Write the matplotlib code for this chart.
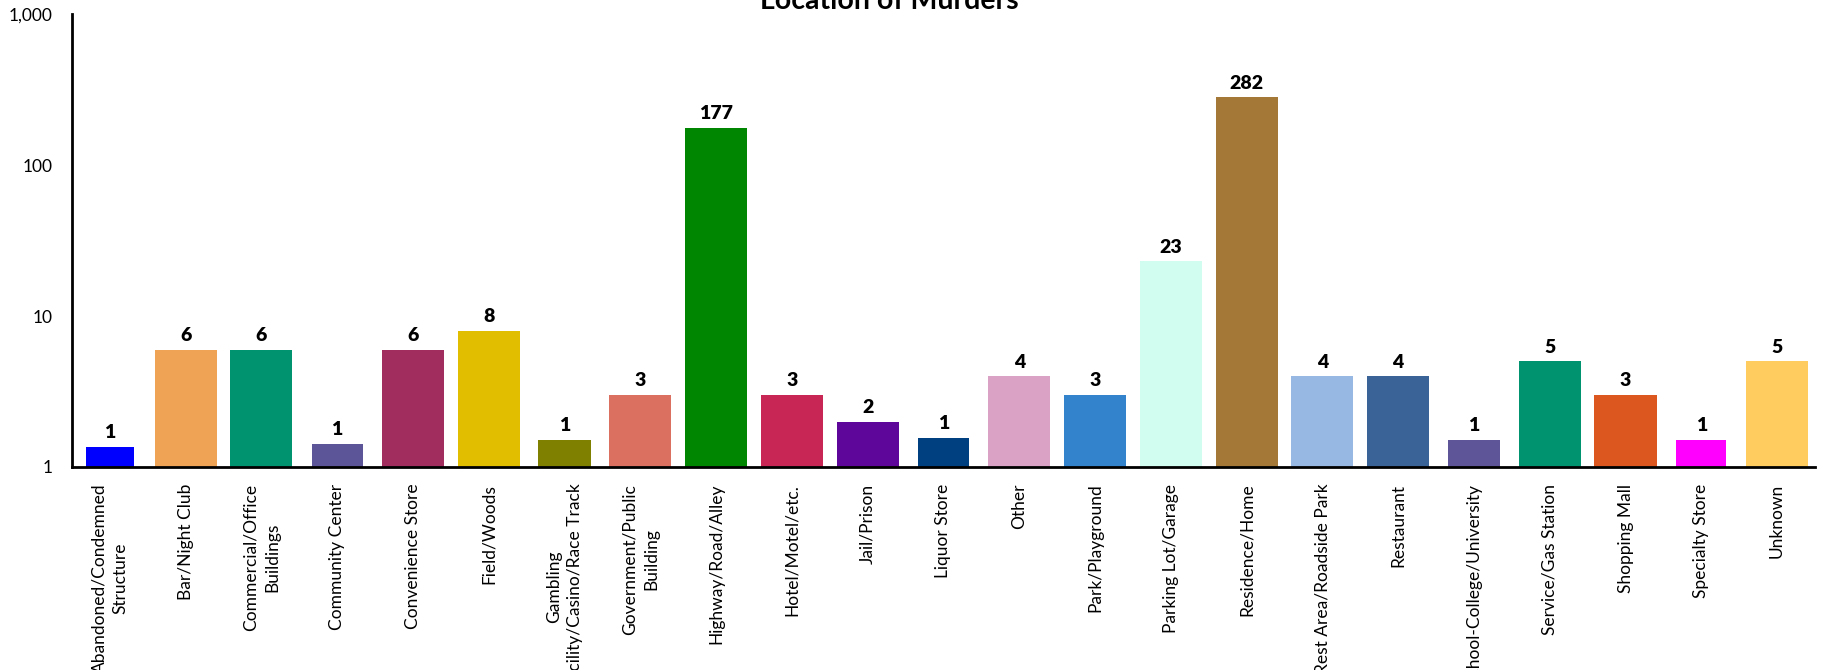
import matplotlib
matplotlib.use("Agg")
from matplotlib import pyplot as plt

plt.rcParams['font.family'] = ['Lato', 'DejaVu Sans']

locations = [
    'Abandoned/Condemned\nStructure', 'Bar/Night Club', 'Commercial/Office\nBuildings',
    'Community Center', 'Convenience Store', 'Field/Woods',
    'Gambling\nFacility/Casino/Race Track', 'Government/Public\nBuilding',
    'Highway/Road/Alley', 'Hotel/Motel/etc.', 'Jail/Prison', 'Liquor Store', 'Other',
    'Park/Playground', 'Parking Lot/Garage', 'Residence/Home', 'Rest Area/Roadside Park',
    'Restaurant', 'School-College/University', 'Service/Gas Station', 'Shopping Mall',
    'Specialty Store', 'Unknown',
]
# bar heights as drawn in the source (the "1" bars sit a little above 1)
murders = [1.36, 6, 6, 1.42, 6, 8, 1.51, 3, 177, 3, 2, 1.56, 4, 3, 23, 282, 4, 4, 1.51, 5, 3, 1.51, 5]

colors = ['#0000FF', '#EFA355', '#009370', '#5C5699', '#A12D5F', '#E2BE00', '#808000',
          '#DC7060', '#008600', '#C82756', '#5E069A', '#004080', '#DAA3C6', '#3383CC',
          '#D0FDF0', '#A47836', '#96B8E2', '#3A6497', '#5E5599', '#009370', '#DC5720',
          '#FF00FF', '#FFCC60']
widths = [0.63, 0.82, 0.82, 0.67, 0.82, 0.82, 0.71, 0.82, 0.82, 0.82, 0.82, 0.67, 0.82,
          0.82, 0.82, 0.82, 0.82, 0.82, 0.69, 0.82, 0.82, 0.66, 0.82]

fig = plt.figure(figsize=(18.3, 6.7), dpi=100)
ax = fig.add_axes([0.0393, 0.303, 0.9525, 0.676])

x = list(range(len(locations)))
bars = ax.bar(x, murders, width=widths, color=colors)
ax.set_yscale('log')
ax.set_ylim(1, 1000)
ax.set_xlim(-0.5, len(locations) - 0.5)
ax.set_yticks([1, 10, 100, 1000])
ax.set_yticklabels(['1', '10', '100', '1,000'])
ax.minorticks_off()

for b, v in zip(bars, murders):
    ax.annotate(f"{int(v)}", (b.get_x() + b.get_width() / 2, v),
                xytext=(0, 4), textcoords="offset points",
                ha='center', va='bottom', fontsize=14, fontweight='heavy')

ax.set_xticks(x)
ax.set_xticklabels(locations, rotation=90, fontsize=12.5, multialignment='center',
                   linespacing=1.4)
ax.tick_params(axis='both', length=0)
ax.tick_params(axis='y', labelsize=12.5, pad=14)
ax.tick_params(axis='x', pad=12)

for side in ['top', 'right']:
    ax.spines[side].set_visible(False)
for side in ['left', 'bottom']:
    ax.spines[side].set_linewidth(2)
    ax.spines[side].set_color('black')

fig.text(0.486, 1 - 9 / 670, 'Location of Murders', ha='center', va='baseline',
         fontsize=20.5, fontweight='bold')

fig.savefig('out.png', dpi=100)
